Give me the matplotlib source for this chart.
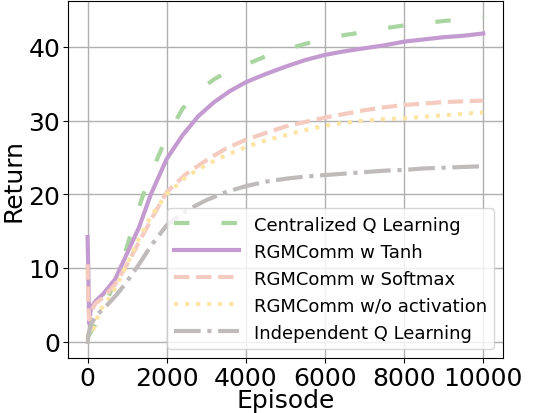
import matplotlib
matplotlib.use("Agg")
import matplotlib.pyplot as plt

# episode / return pairs
central_x = [0, 100, 200, 400, 600, 900, 1300, 1600, 2000, 2400, 2800, 3200, 3600, 4000,
             4500, 5000, 5500, 6000, 6500, 7000, 7500, 8000, 8500, 9000, 9500, 10000]
central_y = [0.5, 1.5, 2.3, 4.5, 7.0, 11.2, 18.3, 22.8, 27.8, 31.6, 34.0, 35.6, 36.8, 37.6,
             38.7, 39.6, 40.4, 41.0, 41.6, 42.0, 42.5, 42.9, 43.2, 43.5, 43.7, 44.0]

tanh_x = [0, 15, 40, 80, 200, 400, 700, 1000, 1300, 1600, 2000, 2400, 2800, 3200, 3600, 4000,
          4500, 5000, 5500, 6000, 6500, 7000, 7500, 8000, 8500, 9000, 9500, 10000]
tanh_y = [14.2, 10.5, 2.5, 4.5, 5.5, 6.5, 8.5, 12.0, 15.5, 20.0, 24.8, 28.0, 30.6, 32.5, 34.0, 35.2,
          36.3, 37.3, 38.2, 38.9, 39.4, 39.8, 40.2, 40.7, 41.0, 41.3, 41.5, 41.8]

softmax_x = [0, 15, 40, 80, 200, 400, 700, 1000, 1300, 1600, 2000, 2500, 3000, 3500, 4000,
             4500, 5000, 5500, 6000, 6500, 7000, 7500, 8000, 8500, 9000, 9500, 10000]
softmax_y = [10.5, 6.0, 3.0, 4.0, 5.2, 6.0, 7.8, 10.5, 13.5, 16.5, 20.3, 22.8, 24.6, 26.2, 27.4,
             28.3, 29.2, 29.8, 30.4, 30.9, 31.4, 31.8, 32.1, 32.3, 32.5, 32.6, 32.7]

noact_x = [0, 50, 100, 200, 300, 500, 740, 1000, 1300, 1600, 2000, 2500, 3000, 3500, 4000,
           4500, 5000, 5500, 6000, 6500, 7000, 7500, 8000, 8500, 9000, 9500, 10000]
noact_y = [0.5, 1.9, 1.0, 2.5, 4.2, 5.5, 7.7, 10.5, 14.0, 17.0, 20.0, 22.4, 24.0, 25.3, 26.4,
           27.3, 28.0, 28.7, 29.3, 29.7, 30.0, 30.2, 30.3, 30.5, 30.7, 30.9, 31.1]

indep_x = [0, 20, 100, 230, 500, 740, 1000, 1300, 1600, 2000, 2500, 3000, 3500, 4000,
           4500, 5000, 5500, 6000, 6500, 7000, 7500, 8000, 8500, 9000, 9500, 10000]
indep_y = [-0.3, 1.0, 2.5, 3.6, 5.0, 6.4, 8.2, 10.5, 13.0, 15.8, 17.8, 19.2, 20.3, 21.1,
           21.7, 22.1, 22.4, 22.6, 22.8, 23.0, 23.2, 23.3, 23.5, 23.6, 23.7, 23.8]

fig = plt.figure(figsize=(5.38, 4.14), dpi=100)
ax = fig.add_axes([0.126, 0.133, 0.809, 0.862])

lw = 3
ax.plot(central_x, central_y, color="#a8d5a0", lw=lw, dashes=(3.7, 7.7), label="Centralized Q Learning")
ax.plot(tanh_x, tanh_y, color="#c49bd0", lw=lw, label="RGMComm w Tanh")
ax.plot(softmax_x, softmax_y, color="#f5cbc0", lw=lw, ls="--", label="RGMComm w Softmax")
ax.plot(noact_x, noact_y, color="#fde5a5", lw=lw, ls=":", label="RGMComm w/o activation")
ax.plot(indep_x, indep_y, color="#bfbbbb", lw=lw, ls="-.", label="Independent Q Learning")

ax.set_xlim(-500, 10500)
ax.set_ylim(-2.2, 46.2)
ax.set_xticks([0, 2000, 4000, 6000, 8000, 10000])
ax.set_yticks([0, 10, 20, 30, 40])
ax.tick_params(labelsize=18, pad=2)
ax.grid(True, color="#b0b0b0", lw=1)
ax.set_xlabel("Episode", fontsize=18, labelpad=-1)
ax.set_ylabel("Return", fontsize=18, labelpad=2)
ax.legend(loc="lower right", fontsize=13, handlelength=3.6)

fig.savefig("out.png", dpi=100)
